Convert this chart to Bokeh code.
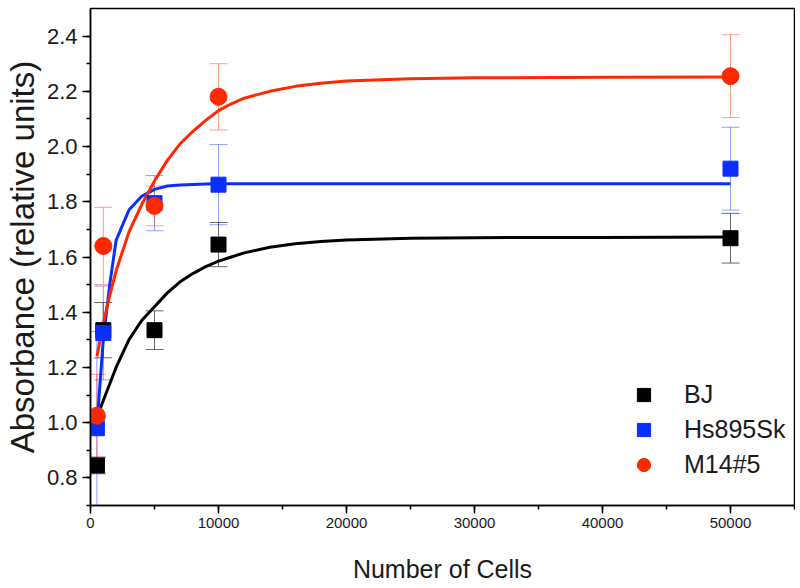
from bokeh.plotting import figure
from bokeh.models import (ColumnDataSource, Range1d, SingleIntervalTicker, Whisker,
                          TeeHead, Legend, LegendItem, PrintfTickFormatter)
from bokeh.embed import file_html
from bokeh.resources import INLINE

# ---- data ----
cells = [500, 1000, 5000, 10000, 50000]
bj = [0.845, 1.335, 1.335, 1.645, 1.668]
bj_err = [0.03, 0.10, 0.07, 0.08, 0.09]
hs = [0.98, 1.325, 1.795, 1.862, 1.92]
hs_err = [0.35, 0.17, 0.10, 0.145, 0.15]
m14 = [1.025, 1.64, 1.785, 2.18, 2.255]
m14_err = [0.15, 0.14, 0.072, 0.12, 0.15]

# fitted curves
fit_x = [500, 1000, 1500, 2000, 3000, 4000, 5000, 6000, 7000, 8000, 9000, 10000,
         11000, 12000, 14000, 16000, 18000, 20000, 25000, 30000, 40000, 50000]
bj_fit = [1.02, 1.08, 1.14, 1.20, 1.30, 1.37, 1.42, 1.47, 1.51, 1.54, 1.565, 1.585,
          1.60, 1.615, 1.635, 1.648, 1.656, 1.662, 1.668, 1.670, 1.671, 1.672]
hs_fit = [0.99, 1.30, 1.50, 1.66, 1.77, 1.82, 1.845, 1.857, 1.861, 1.863, 1.864, 1.865,
          1.865, 1.865, 1.865, 1.865, 1.865, 1.865, 1.865, 1.865, 1.865, 1.865]
m14_fit = [1.24, 1.36, 1.46, 1.55, 1.69, 1.79, 1.875, 1.95, 2.01, 2.055, 2.095, 2.13,
           2.155, 2.175, 2.20, 2.218, 2.229, 2.237, 2.246, 2.249, 2.251, 2.252]

series_names = ["BJ", "Hs895Sk", "M14#5"]
x_label = "Number of Cells"
y_label = "Absorbance (relative units)"

BLACK = "#000000"
BLUE = "#0a2eff"
RED = "#ff2800"
FONT = "Liberation Sans"
TXT = "#1a1a1a"

p = figure(width=795, height=588, output_backend="svg", toolbar_location=None,
           x_range=Range1d(0, 55000), y_range=Range1d(0.7, 2.5),
           min_border_left=89, min_border_right=1, min_border_top=8, min_border_bottom=83)
p.xgrid.visible = False
p.ygrid.visible = False
p.outline_line_color = "black"
p.outline_line_width = 1.5
p.background_fill_color = "white"
p.border_fill_color = "white"

p.xaxis.ticker = SingleIntervalTicker(interval=10000, num_minor_ticks=2)
p.yaxis.ticker = SingleIntervalTicker(interval=0.2, num_minor_ticks=2)
p.yaxis.formatter = PrintfTickFormatter(format="%.1f")
for ax in (p.xaxis[0], p.yaxis[0]):
    ax.axis_line_width = 1.5
    ax.major_tick_in = 0
    ax.major_tick_out = 8
    ax.minor_tick_in = 0
    ax.minor_tick_out = 4
    ax.major_tick_line_width = 1.5
    ax.minor_tick_line_width = 1.5
    ax.major_label_text_font = FONT
    ax.major_label_text_color = TXT
    ax.axis_label_text_font = FONT
    ax.axis_label_text_font_style = "normal"
    ax.axis_label_text_color = TXT
p.xaxis.major_label_text_font_size = "15px"
p.yaxis.major_label_text_font_size = "22px"
p.xaxis.axis_label_text_font_size = "25px"
p.yaxis.axis_label_text_font_size = "33px"
p.xaxis.axis_label = x_label
p.yaxis.axis_label = y_label
p.xaxis.major_label_standoff = 4
p.xaxis.axis_label_standoff = 24
p.yaxis.major_label_standoff = 5
p.yaxis.axis_label_standoff = 3

def add_err(vals, errs, color, alpha):
    src = ColumnDataSource(dict(x=cells,
                                up=[v + e for v, e in zip(vals, errs)],
                                lo=[v - e for v, e in zip(vals, errs)]))
    w = Whisker(base="x", upper="up", lower="lo", source=src, dimension="height",
                line_color=color, line_alpha=alpha, line_width=1,
                upper_head=TeeHead(size=18, line_color=color, line_alpha=alpha, line_width=1),
                lower_head=TeeHead(size=18, line_color=color, line_alpha=alpha, line_width=1))
    p.add_layout(w)

add_err(bj, bj_err, "#444444", 0.8)
add_err(hs, hs_err, BLUE, 0.45)
add_err(m14, m14_err, RED, 0.45)

p.line(fit_x, bj_fit, line_color=BLACK, line_width=3)
p.line(fit_x, hs_fit, line_color=BLUE, line_width=3)
p.line(fit_x, m14_fit, line_color=RED, line_width=3)

r_bj = p.scatter(cells, bj, marker="square", size=15, color=BLACK)
r_hs = p.scatter(cells, hs, marker="square", size=15, color=BLUE)
r_m = p.scatter(cells, m14, marker="circle", size=17, color=RED)

legend = Legend(items=[LegendItem(label=series_names[0], renderers=[r_bj]),
                       LegendItem(label=series_names[1], renderers=[r_hs]),
                       LegendItem(label=series_names[2], renderers=[r_m])],
                location=(537, 24), orientation="vertical",
                glyph_width=33, glyph_height=33, label_height=33, spacing=2,
                label_standoff=24, padding=0, margin=0,
                border_line_color=None, background_fill_alpha=0,
                label_text_font=FONT, label_text_font_size="25px",
                label_text_color=TXT)
p.add_layout(legend)

open("out.html", "w").write(file_html(p, INLINE))
